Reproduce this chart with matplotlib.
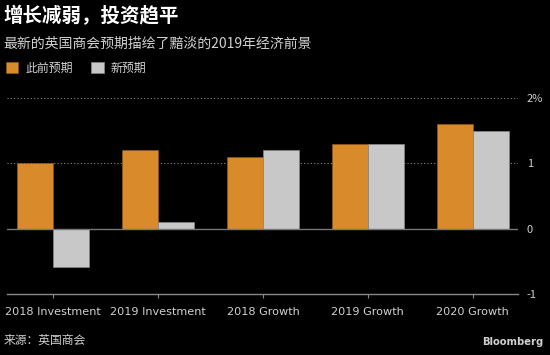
import numpy as np
import matplotlib.pyplot as plt

# data
categories = ['2018 Investment', '2019 Investment', '2018 Growth', '2019 Growth', '2020 Growth']
previous = [1.0, 1.2, 1.1, 1.3, 1.6]     # 此前预期
latest = [-0.58, 0.1, 1.2, 1.3, 1.5]     # 新预期
yticks = [-1, 0, 1, 2]
ytick_labels = ['-1', '0', '1', '2%']

orange = '#D98B2B'
grey = '#C8C8C8'
txt = '#D0D0D0'

plt.rcParams['font.family'] = ['Noto Sans CJK SC', 'DejaVu Sans']

fig = plt.figure(figsize=(5.5, 3.55), dpi=100, facecolor='black')
ax = fig.add_axes([0.0127, 0.172, 0.929, 0.552], facecolor='black')

x = np.arange(len(categories))
w = 0.345
b1 = ax.bar(x - w / 2, previous, w, color=orange, edgecolor='#8a5a1c', linewidth=0.5, label='此前预期', zorder=3)
b2 = ax.bar(x + w / 2, latest, w, color=grey, edgecolor='#888888', linewidth=0.5, label='新预期', zorder=3)

ax.set_xlim(-0.438, 4.43)
ax.set_ylim(-1, 2)

for v in [1, 2]:
    ax.axhline(v, color='#888888', linestyle=(0, (1, 2)), linewidth=0.8, zorder=1)
ax.axhline(0, color='#777777', linewidth=1.0, zorder=4)

for s in ['top', 'left', 'right']:
    ax.spines[s].set_visible(False)
ax.spines['bottom'].set_color('#888888')
ax.spines['bottom'].set_linewidth(1.0)

ax.yaxis.tick_right()
ax.set_yticks(yticks)
ax.set_yticklabels(ytick_labels)
ax.tick_params(axis='y', length=0, pad=6.5, colors=txt, labelsize=8)
ax.set_xticks(x)
ax.set_xticklabels(categories, family=['DejaVu Sans'])
ax.tick_params(axis='x', length=3, color='#888888', colors=txt, labelsize=8.1, pad=6.5)

fig.text(0.007, 0.955, '增长减弱，投资趋平', color='white', fontsize=14, fontweight='bold', va='center')
fig.text(0.007, 0.876, '最新的英国商会预期描绘了黯淡的2019年经济前景', color=txt, fontsize=10, va='center')

fig.legend(handles=[b1, b2], labels=['此前预期', '新预期'], loc='center left',
           bbox_to_anchor=(0.002, 0.808), ncol=2, frameon=False, fontsize=8.6,
           labelcolor=txt, handlelength=1.05, handleheight=1.05, handletextpad=0.6,
           columnspacing=1.5, borderaxespad=0)

fig.text(0.006, 0.042, '来源：英国商会', color=txt, fontsize=8.5, va='center')
fig.text(0.988, 0.036, 'Bloomberg', color=txt, fontsize=7.2, fontweight='bold', va='center', ha='right',
         family=['DejaVu Sans'])

fig.savefig('out.png', dpi=100, facecolor='black')
